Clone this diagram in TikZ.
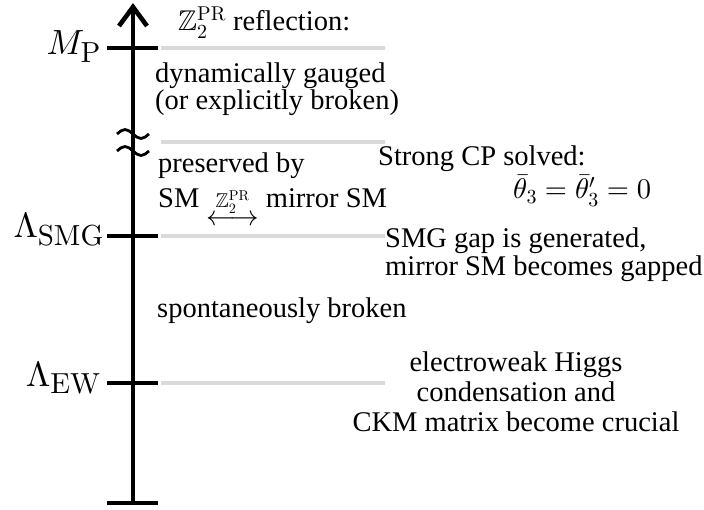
\RequirePackage{fix-cm}
\documentclass[tikz,border=0pt]{standalone}
\usepackage[no-math]{fontspec}
\setmainfont{Liberation Serif}
\usepackage{amsmath,amssymb}
\DeclareFontShape{OT1}{cmr}{m}{n}{<-> cmr10}{}
\DeclareFontShape{OML}{cmm}{m}{it}{<-> cmmi10}{}
\DeclareFontShape{OMS}{cmsy}{m}{n}{<-> cmsy10}{}
\DeclareFontFamily{U}{msb}{}
\DeclareFontShape{U}{msb}{m}{n}{<-6> msbm5 <6-8> msbm7 <8-> msbm10}{}
\DeclareMathSizes{35}{35}{29}{22}
\definecolor{levelgray}{HTML}{DADADA}
\begin{document}
\begin{tikzpicture}[x=1pt,y=-1pt,
  txt/.style={font=\fontsize{28.5}{29}\selectfont, inner sep=0pt, anchor=base west},
  lbl/.style={font=\fontsize{35}{35}\selectfont, inner sep=0pt, anchor=base east},
  axisline/.style={line width=4.6pt},
  tickline/.style={line width=4.2pt},
  levelline/.style={line width=4pt, draw=levelgray},
  approxline/.style={line width=2.8pt},
]
\useasboundingbox (0,0) rectangle (704,510);
% axis
\coordinate (bot) at (133,503);
\coordinate (top) at (133,7);
\draw[axisline] (bot) -- (top);
\draw[axisline, line join=miter] (119,26) -- (top) -- (147,26);
% ticks and levels
\foreach \yy in {48,236,383,503} {
  \draw[tickline] (107,\yy) -- (158,\yy);
}
\foreach \yy in {48,142,236,383} {
  \draw[levelline] (161,\yy) -- (385,\yy);
}
% approx sign on the axis
\draw[approxline] (117,134) sin (125,129.5) cos (133,134) sin (141,138.5) cos (149,134);
\draw[approxline] (117,151) sin (125,146.5) cos (133,151) sin (141,155.5) cos (149,151);
% scale labels
\node[lbl] (lmp) at (101,55) {$M_{\mathrm{P}}$};
\node[lbl] (lsmg) at (104,238) {$\Lambda_{\mathrm{SMG}}$};
\node[lbl] (lew) at (101,386) {$\Lambda_{\mathrm{EW}}$};
% texts
\node[txt] (refl) at (178,31) {$\mathbb{Z}_2^{\mathrm{PR}}$ reflection:};
\node[txt] (gauged) at (155,83) {\begin{tabular}[t]{@{}l@{}}dynamically gauged\\[-2pt](or explicitly broken)\end{tabular}};
\node[txt] (pres) at (158,173) {\begin{tabular}[t]{@{}l@{}}preserved by\\[6pt]SM $\underset{\displaystyle\longleftrightarrow}{\smash[b]{\scriptstyle\mathbb{Z}_2^{\mathrm{PR}}}}$ mirror SM\end{tabular}};
\node[txt] (cp) at (378,166) {Strong CP solved:};
\node[txt] (theta) at (513,199) {$\bar{\theta}_3=\bar{\theta}'_3=0$};
\node[txt] (smg) at (385,248) {\begin{tabular}[t]{@{}l@{}}SMG gap is generated,\\[-1pt]mirror SM becomes gapped\end{tabular}};
\node[txt] (spont) at (157,318) {spontaneously broken};
\node[txt, anchor=base] (ew) at (516,372) {\begin{tabular}[t]{@{}c@{}}electroweak Higgs\\[1pt]condensation and\\[1pt]CKM matrix become crucial\end{tabular}};
\end{tikzpicture}
\end{document}
